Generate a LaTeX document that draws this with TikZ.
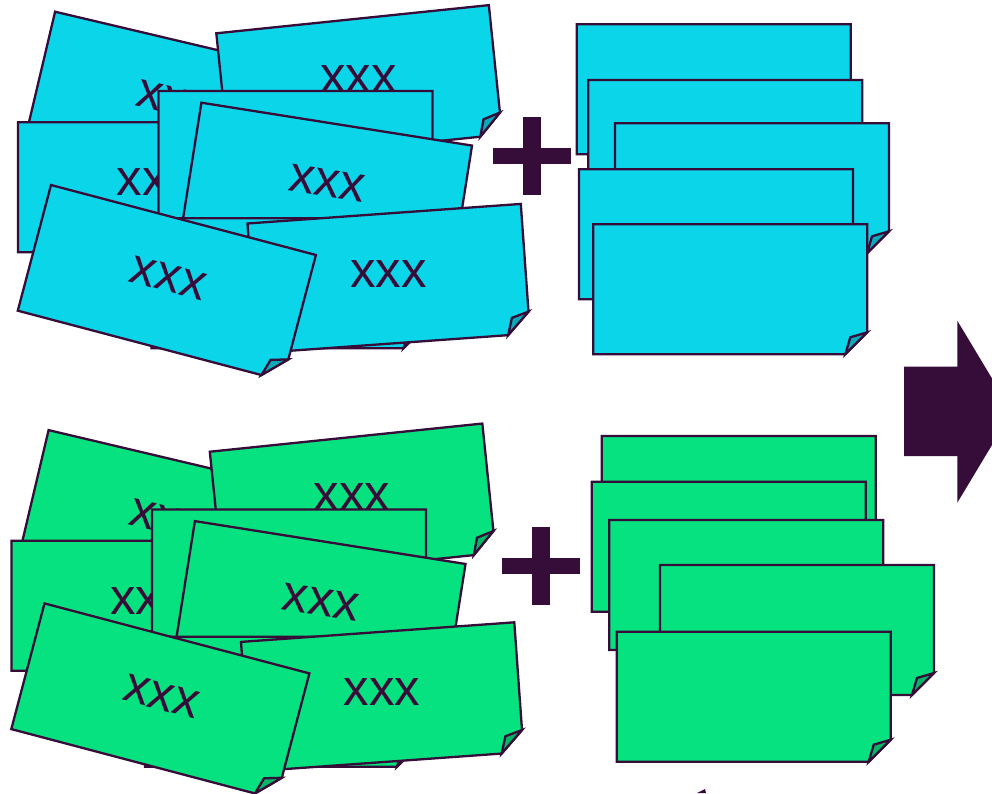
\documentclass[tikz,border=0pt]{standalone}
\usepackage{fontspec}
\usepackage{xcolor}
\usepackage{tikz}
\usetikzlibrary{calc}

\newfontfamily\notefont{Liberation Sans}
\definecolor{ink}{RGB}{54,12,56}
\definecolor{sky}{RGB}{11,213,233}
\definecolor{mint}{RGB}{5,226,127}

% sticky note: name, x, y (top left), angle, colour
\newcommand{\postit}[5]{%
  \begin{scope}[shift={(#2,#3)},rotate=#4]
    \filldraw[card,fill=#5] (0,0) -- (274,0) -- (274,108) -- (252,130) -- (0,130) -- cycle;
    \filldraw[card,fill=#5!80!black] (274,108) -- (257,113) -- (252,130) -- cycle;
    \coordinate (#1) at (137,60);
  \end{scope}}

% the untidy heap of notes on the left
\newcommand{\heap}[2]{%
  \postit{#2n1}{55.1}{11.7}{-13.3}{#1}
  \node[word,rotate=-13.3] (#2x1) at (#2n1) {xxx};
  \postit{#2n2}{216.3}{33.3}{5.9}{#1}
  \node[word] (#2x2) at (#2n2) {xxx};
  \postit{#2n3}{17.9}{122.3}{0}{#1}
  \node[word] (#2x3) at (#2n3) {xxx};
  \postit{#2n4}{158.4}{91}{0}{#1}
  \postit{#2n6}{201.4}{102.7}{-9}{#1}
  \node[word,rotate=-9] (#2x6) at (#2n6) {xxx};
  \postit{#2n8}{151.5}{218.3}{0}{#1}
  \postit{#2n7}{247.5}{223.5}{4.1}{#1}
  \node[word] (#2x7) at (#2n7) {xxx};
  \postit{#2n5}{51}{185}{-14.8}{#1}
  \node[word,rotate=-14.8] (#2x5) at (#2n5) {xxx};
}

\begin{document}
\begin{tikzpicture}[x=1pt,y=-1pt]
	\tikzstyle{card}=[draw=ink, line width=2.3pt]
	\tikzstyle{word}=[font=\notefont\fontsize{51}{61}\selectfont, text=ink, inner sep=0pt]
	\useasboundingbox (0,0) rectangle (992,793);
	\clip (0,0) rectangle (992,793);

	\heap{sky}{a}
	\begin{scope}[shift={(-6.5,418.4)}]
		\heap{mint}{b}
	\end{scope}

	% neat stacks
	\postit{r1}{576.7}{24.3}{0}{sky}
	\postit{r2}{588.3}{80}{0}{sky}
	\postit{r3}{615}{123.3}{0}{sky}
	\postit{r4}{579}{169.3}{0}{sky}
	\postit{r5}{593.3}{224.3}{0}{sky}
	\postit{g1}{601.7}{436}{0}{mint}
	\postit{g2}{591.7}{481.7}{0}{mint}
	\postit{g3}{609.3}{520}{0}{mint}
	\postit{g4}{660}{565}{0}{mint}
	\postit{g5}{616.7}{631.7}{0}{mint}

	% plus signs
	\fill[ink] (493,148.3) rectangle (571,164.3);
	\fill[ink] (523,117) rectangle (541,195);
	\fill[ink] (502,557.8) rectangle (580,573.8);
	\fill[ink] (532,527) rectangle (550,605);
	%\fill[ink] (0,0) circle (2);

	% big arrow
	\fill[ink] (904,366.7) -- (957.3,366.7) -- (957.3,320.7) -- (1012,411.7)
		-- (957.3,502.7) -- (957.3,456) -- (904,456) -- cycle;
	\fill[ink] (697,793) -- (705,789) -- (706,793) -- cycle;
\end{tikzpicture}
\end{document}
